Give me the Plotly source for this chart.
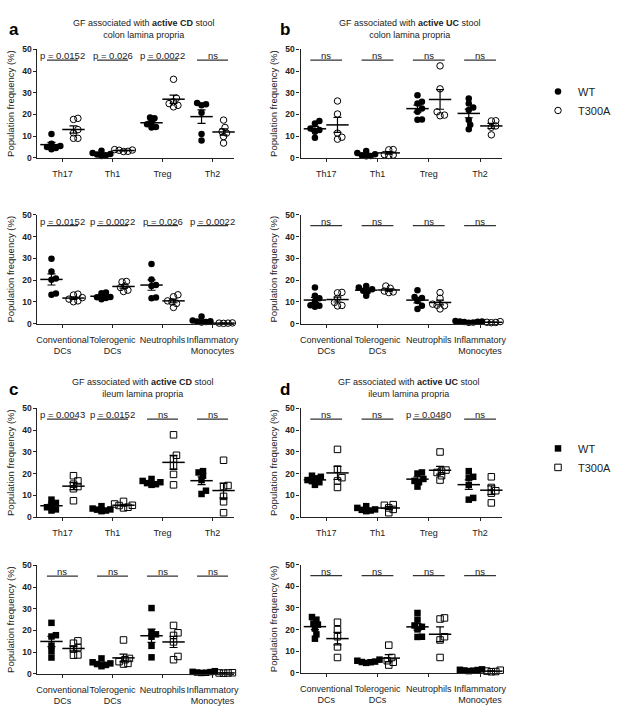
import numpy as np
import plotly.graph_objects as go

W, H = 617, 715
FONT = "Liberation Sans, Arial, sans-serif"

T_CATS = ["Th17", "Th1", "Treg", "Th2"]
M_CATS = ["Conventional<br>DCs", "Tolerogenic<br>DCs", "Neutrophils", "Inflammatory<br>Monocytes"]

# a: active CD stool, colon lamina propria
A_TOP_WT = [[11, 6.5, 5, 4.5, 4, 5.5], [3.3, 2.2, 1.5, 1.2, 0.9, 1.8],
            [18.6, 18.2, 16.5, 15.5, 14.2, 14], [25.3, 24.7, 24.2, 20.8, 11, 8]]
A_TOP_MUT = [[17.7, 18.2, 13, 11.5, 9, 9], [3.8, 3.5, 3.0, 2.9, 3.6],
             [36.2, 27.5, 25.8, 25, 23.5, 24.2], [17.4, 14, 12.1, 11.4, 9.8, 6.8]]
A_TOP_P = ["p = 0.0152", "p = 0.026", "p = 0.0022", "ns"]
A_BOT_WT = [[29.8, 24, 20.8, 20.2, 13.9, 13.3], [14.3, 14, 12.3, 11.8, 11.2, 12.2],
            [27.4, 20.3, 17.8, 17.3, 12, 11.7], [3.3, 1.2, 0.8, 0.6, 1.0, 1.5]]
A_BOT_MUT = [[13.6, 13.2, 12, 11.3, 10.1, 10.5], [19.4, 19.2, 17.3, 16.6, 15.4, 14.8],
             [13.3, 12.4, 10.5, 9.3, 7.5, 10], [0.3, 0.2, 0.3, 0.4]]
A_BOT_P = ["p = 0.0152", "p = 0.0022", "p = 0.026", "p = 0.0022"]

# b: active UC stool, colon lamina propria
B_TOP_WT = [[17, 15.8, 13.5, 12.8, 12, 9.2], [3.2, 2.2, 1.6, 1.2, 0.9, 0.7],
            [28.8, 25.8, 25, 22.7, 21.2, 17.7, 17.6], [27.3, 25, 23.2, 22, 17.4, 15.2, 13.2]]
B_TOP_MUT = [[26.2, 20.2, 11.4, 9.5, 8.6], [3.8, 3.7, 1.5, 1.1, 1.3],
             [42.4, 31.8, 21.2, 19.7, 19.4], [17.1, 17, 14.7, 14.1, 10.6]]
B_TOP_P = ["ns", "ns", "ns", "ns"]
B_BOT_WT = [[16.6, 12.8, 11.7, 10.5, 8.5, 7.8, 8.3], [17.3, 16.6, 15.8, 14.8, 12.8, 15.2],
            [15.4, 12.3, 11.8, 10.5, 8.3, 6.8], [1.3, 1.0, 0.8, 0.6, 0.5, 0.9, 1.1]]
B_BOT_MUT = [[14.4, 14.2, 11.7, 9.8, 8.4, 8.2], [17.3, 16.3, 15, 14.3, 14.6],
             [14.3, 11.7, 9.0, 8.3, 6.8, 8.5], [1.0, 0.6, 0.5, 0.7]]
B_BOT_P = ["ns", "ns", "ns", "ns"]

# c: active CD stool, ileum lamina propria
C_TOP_WT = [[8, 6.5, 5.7, 4.5, 3.5, 3], [5, 3.9, 3.5, 3, 2.7, 3.4],
            [17.5, 16.6, 16, 15.6, 15.1, 14.8], [21.1, 20.5, 19, 17, 12.1, 10.6]]
C_TOP_MUT = [[19, 16.6, 15.1, 14, 13, 7.5], [7.2, 6, 5.4, 5.3, 4.5, 4.2],
             [37.8, 28.4, 26.6, 23.6, 19.6, 14.8], [26.1, 14.5, 14, 9.5, 7, 2]]
C_TOP_P = ["p = 0.0043", "p = 0.0152", "ns", "ns"]
C_BOT_WT = [[23.5, 17.8, 17.2, 13, 10.5, 7.5], [7.1, 5.3, 4.5, 4.1, 3.5, 4.8],
            [30.3, 19.2, 18.2, 17.1, 12.9, 7.6], [1.2, 0.8, 0.5, 0.4, 0.6, 0.9]]
C_BOT_MUT = [[15.2, 14.1, 12.1, 11.4, 8.6, 8.7], [15.6, 7.1, 6.5, 5.6, 4.8, 4.5],
             [22.3, 18.9, 17.7, 14.7, 8, 6.5], [0.4, 0.3, 0.4, 0.5]]
C_BOT_P = ["ns", "ns", "ns", "ns"]

# d: active UC stool, ileum lamina propria
D_TOP_WT = [[19, 18.5, 17.8, 17, 16, 14.8, 16.5], [5, 4.2, 3.5, 3, 2.7, 3.3],
            [20.5, 20, 17.5, 16.6, 16, 14], [21.1, 18.5, 18.1, 14.8, 8.8, 8]]
D_TOP_MUT = [[31.1, 22, 18.1, 16.6, 13.6], [5.7, 5.4, 4.2, 3.5, 2],
             [29.9, 21.6, 21.1, 20.5, 19, 17], [18.5, 13.6, 12.1, 11, 6.5]]
D_TOP_P = ["ns", "ns", "p = 0.0480", "ns"]
D_BOT_WT = [[25.8, 24.6, 22.8, 22.3, 20.5, 17.8, 15.8], [6.1, 5.6, 5.2, 4.9, 4.6, 5.0],
            [27.7, 24.6, 21.9, 21.3, 20.1, 16.7, 16.6], [1.6, 1.3, 1.0, 0.8, 1.4, 1.1]]
D_BOT_MUT = [[23.4, 20, 16.7, 12, 7.1], [12.8, 7.1, 5.6, 4.9, 3.6],
             [25.4, 24.9, 16.7, 15.2, 7.1], [1.2, 0.8, 0.5, 0.6]]
D_BOT_P = ["ns", "ns", "ns", "ns"]

TITLES = ["GF associated with <b>active CD</b> stool<br>colon lamina propria",
          "GF associated with <b>active UC</b> stool<br>colon lamina propria",
          "GF associated with <b>active CD</b> stool<br>ileum lamina propria",
          "GF associated with <b>active UC</b> stool<br>ileum lamina propria"]
LETTERS = ["a", "b", "c", "d"]

XR = [-0.5, 3.42]
OFF = 0.22
BAR_HALF = 0.31
BAR_Y = 45


def swarm(vals, xscale, yscale, d=4.5, step=1.5):
    # spread overlapping points sideways, like a scatter dot plot
    placed = []
    res = [0.0] * len(vals)
    cands = [0.0] + [s * j * step for j in range(1, 40) for s in (1, -1)]
    for i in sorted(range(len(vals)), key=lambda i: vals[i]):
        y = vals[i] * yscale
        for c in cands:
            if all((c - px) ** 2 + (y - py) ** 2 >= d * d for px, py in placed):
                break
        placed.append((c, y))
        res[i] = c / xscale
    return res


panels = [
    (A_TOP_WT, A_TOP_MUT, A_TOP_P, T_CATS, "circle", (37, 236, 45, 155), None),
    (A_BOT_WT, A_BOT_MUT, A_BOT_P, M_CATS, "circle", (37, 236, 212.7, 323.3), None),
    (B_TOP_WT, B_TOP_MUT, B_TOP_P, T_CATS, "circle", (304, 508, 45, 155), "legend"),
    (B_BOT_WT, B_BOT_MUT, B_BOT_P, M_CATS, "circle", (304, 508, 212.7, 323.3), None),
    (C_TOP_WT, C_TOP_MUT, C_TOP_P, T_CATS, "square", (37, 236, 409, 519.3), None),
    (C_BOT_WT, C_BOT_MUT, C_BOT_P, M_CATS, "square", (37, 236, 568.3, 678.3), None),
    (D_TOP_WT, D_TOP_MUT, D_TOP_P, T_CATS, "square", (304, 508, 409, 519.3), "legend2"),
    (D_BOT_WT, D_BOT_MUT, D_BOT_P, M_CATS, "square", (304, 508, 567.7, 677.3), None),
]

fig = go.Figure()
layout = {}
annotations = []

for k, (wt, mut, plabs, cats, sym, (x0, x1, y0, y1), leg) in enumerate(panels, 1):
    sfx = "" if k == 1 else str(k)
    xa, ya = "x" + sfx, "y" + sfx
    xscale = (x1 - x0) / (XR[1] - XR[0])
    yscale = (y1 - y0) / 50.0

    for data, sign, filled, name in ((wt, -1, True, "WT"), (mut, 1, False, "T300A")):
        xs, ys, mx, my, se = [], [], [], [], []
        for i, v in enumerate(data):
            center = i + sign * OFF
            xs += [center + o for o in swarm(v, xscale, yscale)]
            ys += list(v)
            mx.append(center)
            my.append(np.mean(v))
            se.append(np.std(v, ddof=1) / np.sqrt(len(v)))
        fig.add_trace(go.Scatter(
            x=xs, y=ys, xaxis=xa, yaxis=ya, mode="markers", name=name,
            marker=dict(symbol=sym if filled else sym + "-open", size=6.5, color="black",
                        line=dict(width=0 if filled else 1, color="black")),
            cliponaxis=False, showlegend=leg is not None, legend=leg or "legend"))
        fig.add_trace(go.Scatter(
            x=mx, y=my, xaxis=xa, yaxis=ya, mode="markers", showlegend=False,
            marker=dict(symbol="line-ew", size=16, color="black", line=dict(width=1.5, color="black")),
            error_y=dict(type="data", array=se, width=4, thickness=1.2, color="black"),
            cliponaxis=False))

    bx, by = [], []
    for i in range(len(cats)):
        bx += [i - BAR_HALF, i + BAR_HALF, None]
        by += [BAR_Y, BAR_Y, None]
    fig.add_trace(go.Scatter(x=bx, y=by, xaxis=xa, yaxis=ya, mode="lines", showlegend=False,
                             line=dict(color="#333333", width=1.2), cliponaxis=False))
    for i, t in enumerate(plabs):
        annotations.append(dict(x=i, y=BAR_Y, xref=xa, yref=ya, text=t, showarrow=False,
                                xanchor="center", yanchor="bottom", yshift=-3,
                                font=dict(size=9.5, family=FONT, color="#222222")))

    layout["xaxis" + sfx] = dict(
        domain=[x0 / W, x1 / W], range=XR, anchor=ya, tickvals=list(range(len(cats))),
        ticktext=cats, tickangle=0, showline=True, linecolor="#222222", linewidth=1.2,
        ticks="outside", ticklen=3, tickcolor="#222222", showgrid=False, zeroline=False,
        tickfont=dict(size=9, color="#222222"), ticklabelstandoff=4)
    layout["yaxis" + sfx] = dict(
        domain=[1 - y1 / H, 1 - y0 / H], range=[0, 50], anchor=xa,
        tickvals=[0, 10, 20, 30, 40, 50], showline=True, linecolor="#222222", linewidth=1.2,
        ticks="outside", ticklen=3, tickcolor="#222222", showgrid=False, zeroline=False,
        tickfont=dict(size=8.5, color="#222222", weight="bold"),
        title=dict(text="Population frequency (%)", font=dict(size=9.5, color="#222222"), standoff=5))

# panel titles and letters
for j, (tx, ty, lx) in enumerate([(145, 24, 13), (415, 24, 288), (144, 388.5, 13), (414, 388.5, 288)]):
    annotations.append(dict(x=tx / W, y=1 - ty / H, xref="paper", yref="paper", text=TITLES[j],
                            xanchor="center", yanchor="middle", showarrow=False,
                            font=dict(size=9, family=FONT, color="#222222")))
    annotations.append(dict(x=lx / W, y=1 - (ty + 1) / H, xref="paper", yref="paper",
                            text="<b>" + LETTERS[j] + "</b>", xanchor="center", yanchor="middle",
                            showarrow=False, font=dict(size=17, family=FONT, color="black")))

leg_style = dict(xanchor="left", yanchor="top", font=dict(size=11, family=FONT, color="#222222"),
                 bgcolor="rgba(0,0,0,0)", tracegroupgap=0)
layout["legend"] = dict(x=545 / W, y=1 - 73 / H, **leg_style)
layout["legend2"] = dict(x=545 / W, y=1 - 435 / H, **leg_style)

fig.update_layout(
    width=W, height=H, margin=dict(l=0, r=0, t=0, b=0),
    paper_bgcolor="white", plot_bgcolor="white",
    font=dict(family=FONT, color="#222222"),
    annotations=annotations, **layout)

fig.write_html("out.html", config={"displayModeBar": False},
               post_script="document.body.style.margin='0';")
